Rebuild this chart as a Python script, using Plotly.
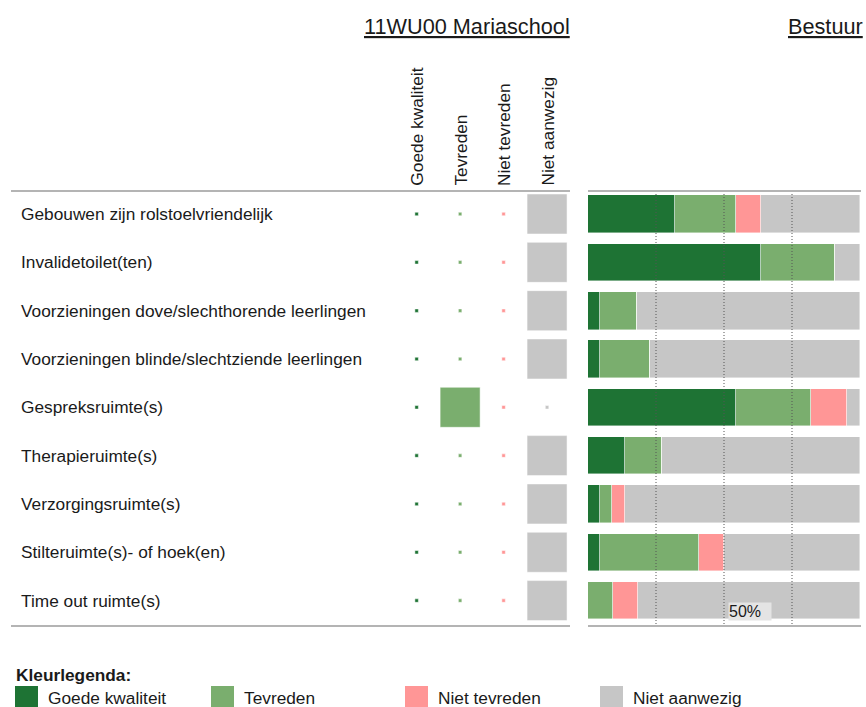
import plotly.graph_objects as go

# ---------------- data ----------------
categories = [
    "Gebouwen zijn rolstoelvriendelijk",
    "Invalidetoilet(ten)",
    "Voorzieningen dove/slechthorende leerlingen",
    "Voorzieningen blinde/slechtziende leerlingen",
    "Gespreksruimte(s)",
    "Therapieruimte(s)",
    "Verzorgingsruimte(s)",
    "Stilteruimte(s)- of hoek(en)",
    "Time out ruimte(s)",
]
answer_options = ["Goede kwaliteit", "Tevreden", "Niet tevreden", "Niet aanwezig"]

# school answer per category
school_answer = [
    "Niet aanwezig", "Niet aanwezig", "Niet aanwezig", "Niet aanwezig",
    "Tevreden",
    "Niet aanwezig", "Niet aanwezig", "Niet aanwezig", "Niet aanwezig",
]

# Bestuur percentages per answer option
bestuur_goede = [31.8, 63.6, 4.5, 4.5, 54.5, 13.6, 4.5, 4.5, 0.0]
bestuur_tevreden = [22.7, 27.3, 13.6, 18.2, 27.3, 13.6, 4.5, 36.4, 9.1]
bestuur_niet_tevreden = [9.1, 0.0, 0.0, 0.0, 13.6, 0.0, 4.5, 9.1, 9.1]
bestuur_niet_aanwezig = [36.4, 9.1, 81.8, 77.3, 4.6, 72.7, 86.5, 50.0, 81.8]

grid_values = [25, 50, 75]
school_title = "11WU00 Mariaschool"
bestuur_title = "Bestuur"
legend_title = "Kleurlegenda:"

# ---------------- styling ----------------
W, H = 866, 707
colors = {
    "Goede kwaliteit": "#1e7334",
    "Tevreden": "#7aae6e",
    "Niet tevreden": "#ff9696",
    "Niet aanwezig": "#c6c6c6",
}
FONT = "Liberation Sans, Arial, sans-serif"
TXT = "#1a1a1a"
LBL = 17.3

def px_x(p):
    return p / W

def px_y(p):
    return 1 - p / H

fig = go.Figure()

# left table: dots and big squares
for opt in answer_options:
    sizes = [40 if a == opt else 3.5 for a in school_answer]
    fig.add_trace(go.Scatter(
        x=[opt] * len(categories), y=categories,
        mode="markers",
        marker=dict(symbol="square", size=sizes, color=colors[opt], opacity=1,
                    line=dict(width=1, color="rgba(255,255,255,0.5)")),
        xaxis="x", yaxis="y", showlegend=False, hoverinfo="skip",
    ))

# right: stacked bars for Bestuur
series = [
    ("Goede kwaliteit", bestuur_goede),
    ("Tevreden", bestuur_tevreden),
    ("Niet tevreden", bestuur_niet_tevreden),
    ("Niet aanwezig", bestuur_niet_aanwezig),
]
for name, vals in series:
    fig.add_trace(go.Bar(
        x=vals, y=categories, orientation="h", name=name,
        marker=dict(color=colors[name], line=dict(width=0.6, color="rgba(255,255,255,0.7)")),
        width=0.774, xaxis="x2", yaxis="y", showlegend=False,
    ))

shapes = []
# dotted reference lines
for g in grid_values:
    shapes.append(dict(type="line", xref="x2", yref="paper", x0=g, x1=g,
                       y0=px_y(191), y1=px_y(626), layer="above",
                       line=dict(color="#555555", width=1, dash="1px,2px")))
# horizontal separator lines
for yy in (191, 626):
    shapes.append(dict(type="line", xref="paper", yref="paper",
                       x0=px_x(11), x1=px_x(570), y0=px_y(yy), y1=px_y(yy),
                       line=dict(color="#b4b4b4", width=2)))
    shapes.append(dict(type="line", xref="paper", yref="paper",
                       x0=px_x(588), x1=px_x(861), y0=px_y(yy), y1=px_y(yy),
                       line=dict(color="#b4b4b4", width=2)))

annotations = []
# category labels
for c in categories:
    annotations.append(dict(text=c, xref="paper", yref="y", x=px_x(19), y=c,
                            xanchor="left", yanchor="middle", showarrow=False,
                            font=dict(family=FONT, size=LBL, color=TXT)))
# column headers
for opt in answer_options:
    annotations.append(dict(text=opt, xref="x", yref="paper", x=opt, y=px_y(188),
                            xanchor="center", yanchor="bottom", textangle=-90,
                            showarrow=False,
                            font=dict(family=FONT, size=LBL, color=TXT)))
# titles
annotations.append(dict(text=school_title, xref="paper", yref="paper",
                        x=px_x(467), y=px_y(27), xanchor="center", yanchor="middle",
                        showarrow=False,
                        font=dict(family=FONT, size=21.7, color=TXT, lineposition="under")))
annotations.append(dict(text=bestuur_title, xref="paper", yref="paper",
                        x=px_x(865), y=px_y(27), xanchor="right", yanchor="middle",
                        showarrow=False,
                        font=dict(family=FONT, size=21.7, color=TXT, lineposition="under")))
# 50% label
annotations.append(dict(text="50%", xref="x2", yref="paper", x=50, y=px_y(611),
                        xanchor="left", yanchor="middle", xshift=4, showarrow=False,
                        bgcolor="#e4e4e4", borderpad=0, width=42, align="left",
                        font=dict(family=FONT, size=16, color=TXT)))
# colour legend
annotations.append(dict(text="<b>" + legend_title + "</b>", xref="paper", yref="paper",
                        x=px_x(14), y=px_y(675), xanchor="left", yanchor="middle",
                        showarrow=False, font=dict(family=FONT, size=LBL, color=TXT)))
legend_x = [15, 211, 405, 600]
for lx, opt in zip(legend_x, answer_options):
    shapes.append(dict(type="rect", xref="paper", yref="paper",
                       x0=px_x(lx), x1=px_x(lx + 23), y0=px_y(686), y1=px_y(710),
                       fillcolor=colors[opt], line=dict(width=0)))
    annotations.append(dict(text=opt, xref="paper", yref="paper",
                            x=px_x(lx + 31), y=px_y(698), xanchor="left", yanchor="middle",
                            showarrow=False, font=dict(family=FONT, size=LBL, color=TXT)))

fig.update_layout(
    width=W, height=H, autosize=False,
    margin=dict(l=0, r=0, t=0, b=0),
    paper_bgcolor="white", plot_bgcolor="white",
    barmode="stack", bargap=0,
    xaxis=dict(domain=[px_x(394.9), px_x(568.8)], range=[-0.5, 3.5],
               type="category", categoryorder="array", categoryarray=answer_options,
               visible=False, fixedrange=True, anchor="y"),
    xaxis2=dict(domain=[px_x(588), px_x(860)], range=[0, 100], visible=False,
                fixedrange=True, anchor="y"),
    yaxis=dict(domain=[px_y(624.75), px_y(189.85)], type="category",
               categoryorder="array", categoryarray=categories,
               range=[8.5, -0.5], visible=False, fixedrange=True),
    shapes=shapes, annotations=annotations,
    showlegend=False,
)

fig.write_html(
    "out.html",
    config={"displayModeBar": False},
    post_script="document.body.style.margin='0';document.body.style.overflow='hidden';",
)
